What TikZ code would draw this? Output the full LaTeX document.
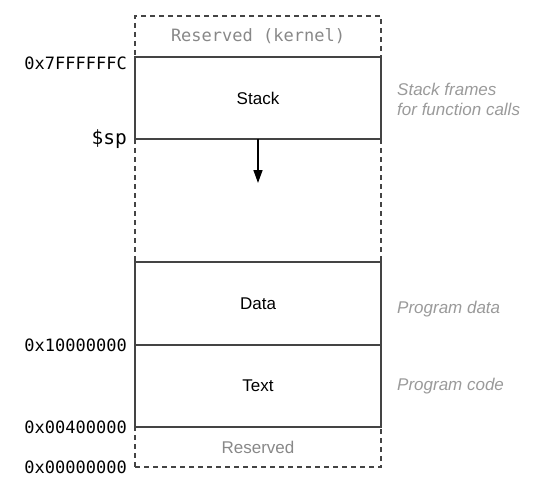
\documentclass[tikz,border=0pt]{standalone}
\usepackage{fontspec}
\setmainfont{Liberation Sans}
\setmonofont{DejaVu Sans Mono}
\usetikzlibrary{arrows.meta, positioning}
\definecolor{edge}{HTML}{444444}
\definecolor{muted}{HTML}{888888}
\definecolor{notegray}{HTML}{9A9A9A}
\tikzset{
  segment/.style={
    rectangle, draw=edge, line width=1.5pt, minimum width=246pt,
    minimum height=#1, inner sep=0pt, outer sep=0pt,
    font=\fontsize{17}{20}\selectfont
  },
  reserved/.style={segment=#1, dash pattern=on 5pt off 4pt, text=muted},
  gapedge/.style={draw=edge, line width=1.5pt, dash pattern=on 5pt off 4pt},
  addr/.style={font=\ttfamily\fontsize{17}{20}\selectfont, inner sep=0pt},
  note/.style={font=\itshape\fontsize{17}{20}\selectfont, text=notegray,
    align=left, inner sep=0pt},
  arrow/.style={-{Triangle[length=13pt,width=9pt]}, line width=1.5pt}
}
\begin{document}
\begin{tikzpicture}[x=1pt, y=-1pt, node distance=0pt]
  \useasboundingbox (0,0) rectangle (546,500);

  % memory segments, top to bottom
  \node[reserved=41pt, font=\ttfamily\fontsize{17}{20}\selectfont] (kernel) at (258,36.5) {Reserved (kernel)};
  \node[segment=82pt, below=of kernel] (stack) {Stack};
  \node[segment=83pt, below=123pt of stack] (data) {Data};
  \node[segment=82pt, below=of data] (text) {Text};
  \node[reserved=40pt, below=of text] (low) {Reserved};

  % free space between stack and data
  \draw[gapedge] (stack.south west) -- (data.north west);
  \draw[gapedge] (stack.south east) -- (data.north east);
  \coordinate[below=44pt of stack.south] (grow);
  \draw[arrow] (stack.south) -- (grow);

  % addresses
  \node[addr, left=8pt of stack.north west, yshift=-6pt] (atop) {0x7FFFFFFC};
  \node[addr, left=8pt of stack.south west, font=\ttfamily\fontsize{19.5}{22}\selectfont] (asp) {\$sp};
  \node[addr, left=8pt of text.north west] (adata) {0x10000000};
  \node[addr, left=8pt of low.north west] (atext) {0x00400000};
  \node[addr, left=8pt of low.south west] (azero) {0x00000000};

  % notes
  \node[note, right=16pt of stack.east, yshift=-1pt] (nstack) {Stack frames\\for function calls};
  \node[note, right=16pt of data.east, yshift=-6pt] (ndata) {Program data};
  \node[note, right=16pt of text.east] (ntext) {Program code};
\end{tikzpicture}
\end{document}
